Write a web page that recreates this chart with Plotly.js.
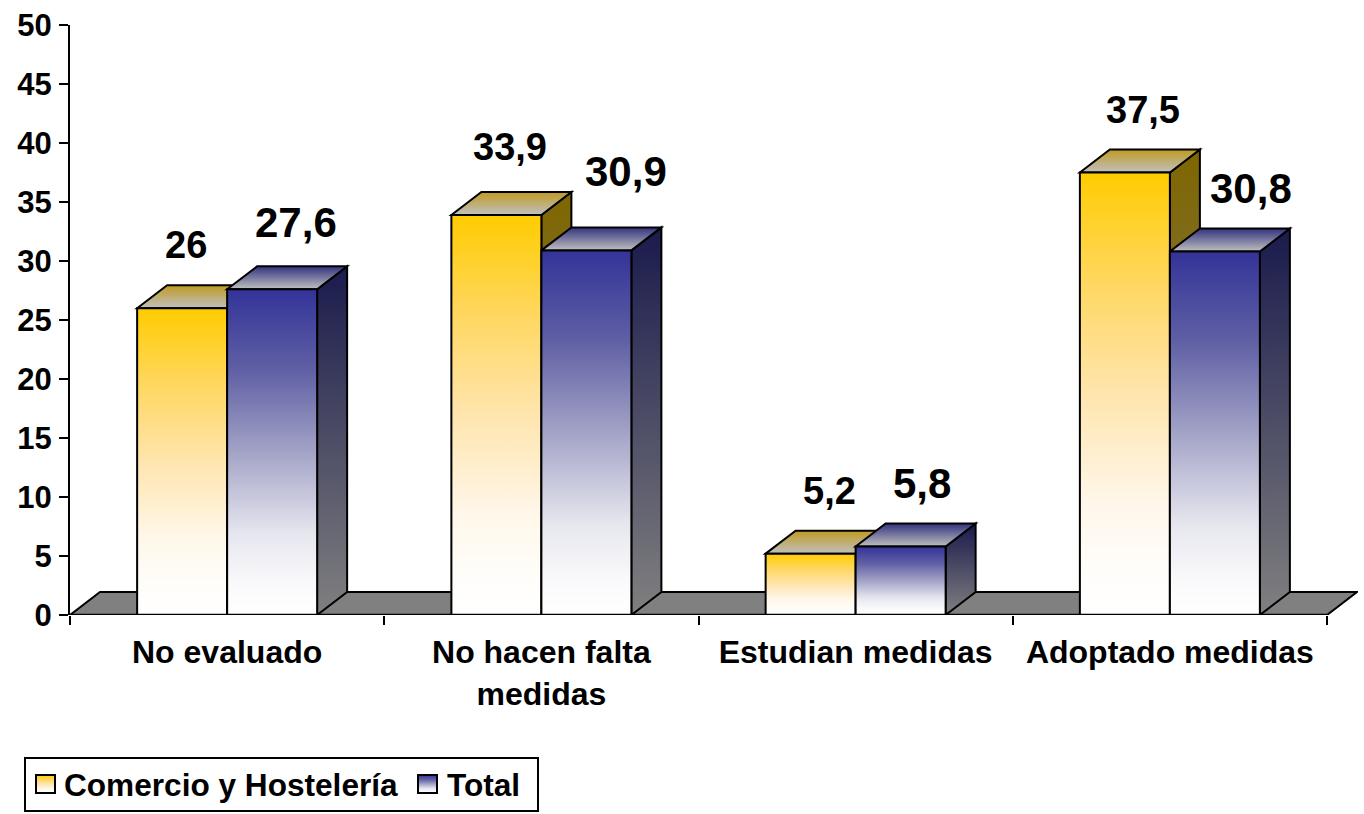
<!DOCTYPE html>
<html><head><meta charset="utf-8">
<script src="https://cdn.plot.ly/plotly-3.0.1.min.js"></script>
<style>html,body{margin:0;padding:0;background:#fff}#chart{width:1364px;height:814px}</style>
</head><body><div id="chart"></div>
<script>
const categories = ["No evaluado", "No hacen falta<br>medidas", "Estudian medidas", "Adoptado medidas"];
const comercio = [26, 33.9, 5.2, 37.5];
const total = [27.6, 30.9, 5.8, 30.8];
const comercioLabels = ["26", "33,9", "5,2", "37,5"];
const totalLabels = ["27,6", "30,9", "5,8", "30,8"];
const yTicks = [0, 5, 10, 15, 20, 25, 30, 35, 40, 45, 50];

// label placement offsets (px from the bar's front-top centre)
const comercioShift = [[4, 63], [14, 68], [19, 63], [18, 63]];
const totalShift = [[24, 67], [40, 79], [21, 63], [36, 63]];

const FONT = '"Liberation Sans", Arial, sans-serif';
const catPx = 314.25, plotLeft = 70, plotRight = 1358, plotTop = 25, plotBottom = 615;
const xMax = -0.5 + (plotRight - plotLeft) / catPx;
const yUnit = (plotBottom - plotTop) / 50;
const barW = 90 / catPx, depX = 30 / catPx, depY = 23 / yUnit;

const poly = pts => 'M' + pts.map(p => p[0] + ',' + p[1]).join('L') + 'Z';
const shapes = [], fills = [];
function addShape(pts, grad, fallback) {
  shapes.push({type: 'path', xref: 'x', yref: 'y', layer: 'below', path: poly(pts),
    fillcolor: fallback, line: {color: '#000', width: 2}});
  fills.push(grad);
}
// floor
addShape([[-0.5, 0], [-0.5 + depX, depY], [3.5 + depX, depY], [3.5, 0]], null, '#808080');
// 3D faces, back to front
categories.forEach((c, i) => {
  [[comercio[i], i - barW, 'Y'], [total[i], i, 'B']].forEach(([v, x0, k]) => {
    const x1 = x0 + barW;
    addShape([[x1, 0], [x1 + depX, depY], [x1 + depX, v + depY], [x1, v]], 'side' + k, '#808080');
    addShape([[x0, v], [x0 + depX, v + depY], [x1 + depX, v + depY], [x1, v]], 'top' + k, '#c0c0c0');
  });
});
// baseline
shapes.push({type: 'line', xref: 'x', yref: 'y', layer: 'above', x0: -0.5, x1: 3.5, y0: 0, y1: 0,
  line: {color: '#000', width: 2.5}});

const annotations = [];
categories.forEach((c, i) => {
  annotations.push({x: i - barW / 2, y: comercio[i], xref: 'x', yref: 'y', text: comercioLabels[i], showarrow: false,
    xshift: comercioShift[i][0], yshift: comercioShift[i][1], font: {size: 38, color: '#000', family: FONT, weight: 700}});
  annotations.push({x: i + barW / 2, y: total[i], xref: 'x', yref: 'y', text: totalLabels[i], showarrow: false,
    xshift: totalShift[i][0], yshift: totalShift[i][1], font: {size: 42, color: '#000', family: FONT, weight: 700}});
});

const barLine = {color: '#000', width: 2};
const traces = [
  {type: 'bar', name: 'Comercio y Hostelería', x: categories, y: comercio, marker: {color: '#FFCC00', line: barLine}, hoverinfo: 'x+y'},
  {type: 'bar', name: 'Total', x: categories, y: total, marker: {color: '#333399', line: barLine}, hoverinfo: 'x+y'}
];
const layout = {
  width: 1364, height: 814, autosize: false,
  margin: {l: plotLeft, r: 1364 - plotRight, t: plotTop, b: 814 - plotBottom, pad: 0},
  paper_bgcolor: '#fff', plot_bgcolor: 'rgba(0,0,0,0)',
  font: {family: FONT, size: 32, color: '#000', weight: 700},
  barmode: 'group', bargap: 1 - 2 * barW, bargroupgap: 0,
  xaxis: {type: 'category', range: [-0.5, xMax], tickson: 'boundaries', ticks: 'outside', ticklen: 9, tickwidth: 2,
    tickcolor: '#000', showline: false, showgrid: false, zeroline: false, fixedrange: true,
    tickangle: 0, tickfont: {size: 32, family: FONT, weight: 700, color: '#000'}, ticklabelstandoff: 15},
  yaxis: {range: [0, 50], tickmode: 'array', tickvals: yTicks, ticktext: yTicks.map(String), ticks: 'outside', ticklen: 9,
    tickwidth: 2, tickcolor: '#000', showline: true, linecolor: '#000', linewidth: 2, showgrid: false, zeroline: false,
    fixedrange: true, tickfont: {size: 31, family: FONT, weight: 700, color: '#000'}, ticklabelstandoff: 1},
  legend: {orientation: 'h', xref: 'container', yref: 'container', x: 24 / 1364, y: 1 - 757 / 814, xanchor: 'left', yanchor: 'top',
    bgcolor: '#fff', bordercolor: '#000', borderwidth: 2, font: {size: 31.6, family: FONT, weight: 700, color: '#000'}, traceorder: 'normal'},
  shapes, annotations, showlegend: true
};

const gradients = {
  frontY: [[0, '#FFCC00'], [.25, '#FFD760'], [.5, '#FFE5AE'], [.75, '#FFF7EA'], [.9, '#FFFDFA'], [1, '#FFFFFF']],
  frontB: [[0, '#333399'], [.25, '#6060A5'], [.5, '#A3A3C7'], [.75, '#E6E6EF'], [.9, '#F9F9FB'], [1, '#FFFFFF']],
  sideY: [[0, '#7F6600'], [1, '#808080']], sideB: [[0, '#1A1A4D'], [1, '#808080']],
  topY: [[0, '#BF9A22'], [1, '#C0C0C0']], topB: [[0, '#33337F'], [1, '#C0C0C0']]
};
// legend box and entry placement on the page
const legendBox = {w: 513, h: 53};
const legendTextLeft = [64, 447], legendSwatchMid = [45.5, 427.5], legendLift = 2;

const gd = document.getElementById('chart');
Plotly.newPlot(gd, traces, layout, {displayModeBar: false}).then(() => {
  const svg = gd.querySelector('svg.main-svg');
  const NS = 'http://www.w3.org/2000/svg';
  const defs = svg.querySelector('defs') || svg.insertBefore(document.createElementNS(NS, 'defs'), svg.firstChild);
  Object.entries(gradients).forEach(([id, stops]) => {
    const g = document.createElementNS(NS, 'linearGradient');
    g.setAttribute('id', id); g.setAttribute('x1', '0'); g.setAttribute('y1', '0'); g.setAttribute('x2', '0'); g.setAttribute('y2', '1');
    stops.forEach(([o, c]) => {
      const s = document.createElementNS(NS, 'stop');
      s.setAttribute('offset', o); s.setAttribute('stop-color', c); g.appendChild(s);
    });
    defs.appendChild(g);
  });
  const paint = (el, id) => { el.style.fill = 'url(#' + id + ')'; el.style.fillOpacity = 1; };
  gd.querySelectorAll('.barlayer .trace').forEach((t, k) => {
    t.querySelectorAll('.point path').forEach(p => paint(p, k ? 'frontB' : 'frontY'));
  });
  gd.querySelectorAll('.shapelayer path[data-index]').forEach(p => {
    const f = fills[+p.getAttribute('data-index')];
    if (f) paint(p, f);
  });
  const bg = gd.querySelector('.legend rect.bg');
  bg.setAttribute('width', legendBox.w); bg.setAttribute('height', legendBox.h);
  const sb = gd.querySelector('.legend .scrollbox');
  if (sb) sb.removeAttribute('clip-path');
  gd.querySelectorAll('.legend .traces').forEach((t, k) => {
    const txt = t.querySelector('text').getBoundingClientRect();
    const m = /translate\(([-\d.]+)[, ]+([-\d.]+)\)/.exec(t.getAttribute('transform')) || [0, 0, 0];
    t.setAttribute('transform', 'translate(' + (+m[1] + legendTextLeft[k] - txt.left) + ',' + (+m[2] - legendLift) + ')');
    const p = t.querySelector('.legendpoints path');
    if (p) {
      const r = p.getBoundingClientRect();
      const dx = legendSwatchMid[k] - (r.left + r.right) / 2;
      const [w, h] = [9.5, 9];
      const tr = p.getAttribute('transform');
      p.setAttribute('d', 'M' + w + ',' + h + 'H' + (-w) + 'V' + (-h) + 'H' + w + 'Z');
      const base = /translate\(([-\d.]+)[, ]+([-\d.]+)\)/.exec(tr || '') || [0, 0, 0];
      p.setAttribute('transform', 'translate(' + (+base[1] + dx) + ',' + (+base[2]) + ')');
      paint(p, k ? 'frontB' : 'frontY');
      p.style.stroke = '#000'; p.style.strokeWidth = '2px';
    }
  });
});
</script></body></html>
